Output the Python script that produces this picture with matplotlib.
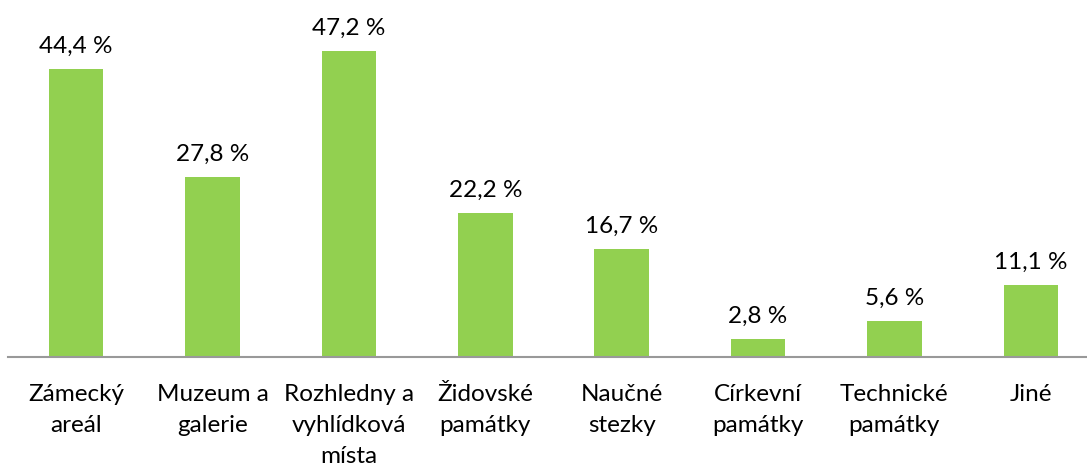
import matplotlib
matplotlib.use("Agg")
import matplotlib.pyplot as plt

categories = ["Zámecký\nareál", "Muzeum a\ngalerie", "Rozhledny a\nvyhlídková\nmísta",
              "Židovské\npamátky", "Naučné\nstezky", "Církevní\npamátky",
              "Technické\npamátky", "Jiné"]
values = [44.4, 27.8, 47.2, 22.2, 16.7, 2.8, 5.6, 11.1]
labels = ["44,4 %", "27,8 %", "47,2 %", "22,2 %", "16,7 %", "2,8 %", "5,6 %", "11,1 %"]

plt.rcParams['font.family'] = ['Lato', 'DejaVu Sans']

fig = plt.figure(figsize=(10.87, 4.68), dpi=100)
ax = fig.add_axes([8 / 1087, 111 / 468, 1091 / 1087, 324 / 468])

x = range(len(values))
bars = ax.bar(x, values, width=0.4, color="#92D050")
for b, lab in zip(bars, labels):
    ax.text(b.get_x() + b.get_width() / 2, b.get_height() + 1.9, lab,
            ha="center", va="bottom", fontsize=17.5, clip_on=False)

ax.set_xlim(-0.5, len(values) - 0.5)
ax.set_ylim(0, 50)
ax.set_xticks(list(x))
ax.set_xticklabels(categories, fontsize=17.5, va="top", linespacing=1.58)
ax.tick_params(axis="x", length=0, pad=19.5)
ax.set_yticks([])
for s in ["top", "right", "left"]:
    ax.spines[s].set_visible(False)
ax.spines["bottom"].set_color("#999999")
ax.spines["bottom"].set_linewidth(1.5)

fig.savefig("out.png", dpi=100)
